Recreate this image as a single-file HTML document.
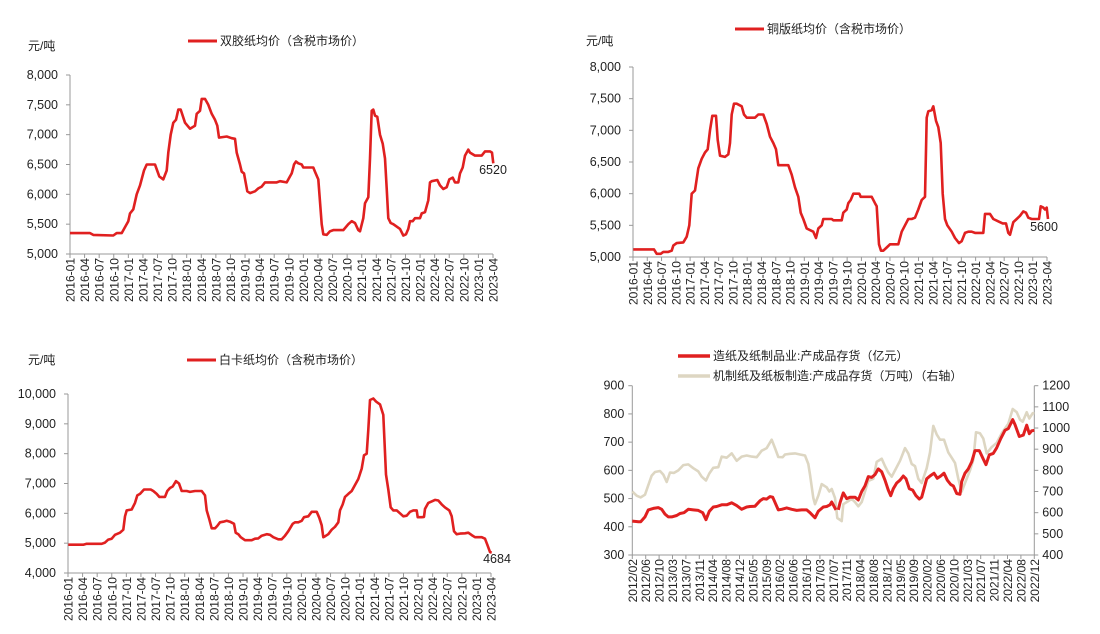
<!DOCTYPE html>
<html><head><meta charset="utf-8"><style>
html,body{margin:0;padding:0;background:#fff;width:1100px;height:634px;overflow:hidden}
svg text{font-family:"Liberation Sans","Noto Sans CJK SC",sans-serif;fill:#222}
</style></head><body>
<svg id="s" width="1100" height="634" xmlns="http://www.w3.org/2000/svg"></svg>
<script>
var S=document.getElementById('s'),h='';
function t(x,y,s,o){h+='<text x="'+x+'" y="'+y+'" '+(o||'')+'>'+s+'</text>';}
function l(x1,y1,x2,y2,c,w){h+='<line x1="'+x1+'" y1="'+y1+'" x2="'+x2+'" y2="'+y2+'" stroke="'+(c||'#999')+'" stroke-width="'+(w||1)+'"/>';}
function poly(pts,ox,oy,vy,c,w){var p=pts.map(function(a){return (ox+a[0]/3).toFixed(1)+','+vy(a[1]).toFixed(1)}).join(' ');h+='<polyline points="'+p+'" fill="none" stroke="'+c+'" stroke-width="'+w+'" stroke-linejoin="round"/>';}
function P(a){var r=[];for(var i=0;i<a.length;i+=2)r.push([a[i],a[i+1]]);return r;}
var months=[];for(var y=2016;y<=2023;y++)for(var m=1;m<=10;m+=3){if(y==2023&&m>4)break;months.push(y+'-'+(m<10?'0':'')+m);}
function priceChart(o){
 l(o.x0,o.yt,o.x0,o.yb);l(o.x0,o.yb,o.x1,o.yb);
 var n=o.vals.length;
 for(var i=0;i<n;i++){var y=o.yb-(o.yb-o.yt)*i/(n-1);l(o.x0-4,y,o.x0,y);t(o.x0-12,y+4,o.vals[i],'font-size="12.5" text-anchor="end"');}
 for(var i=0;i<months.length;i++){var x=o.x0+(o.x1-o.x0)*i/(months.length-1);l(x,o.yb,x,o.yb+4);t(x+4.5,o.yb+4,months[i],'font-size="12" text-anchor="end" transform="rotate(-90 '+(x+4.5)+' '+(o.yb+4)+')"');}
 l(o.lx,o.ly,o.lx+29,o.ly,'#e02020',3);t(o.lx+32,o.ly+4,o.title,'font-size="12"');
 t(o.ux,o.uy,'元/吨','font-size="12"');
 var vy=function(v){return o.yb-(v-o.vmin)/(o.vmax-o.vmin)*(o.yb-o.yt)};
 poly(P(o.pts),o.zx,0,vy,'#e02020',2.6);
 t(o.labx,o.laby,o.lab,'font-size="12.5" text-anchor="middle"');
}
priceChart({x0:70,x1:493,yt:75,yb:254,vmin:5000,vmax:8000,vals:['5,000','5,500','6,000','6,500','7,000','7,500','8,000'],lx:188,ly:41,title:'双胶纸均价（含税市场价）',ux:28,uy:50,zx:0,labx:493,laby:174,lab:'6520',
pts:[210,5350,270,5350,280,5320,340,5310,350,5350,365,5350,385,5550,390,5680,400,5750,410,6000,420,6150,432,6400,440,6500,465,6500,478,6300,490,6250,500,6400,505,6700,512,7000,520,7200,528,7250,535,7420,542,7420,555,7200,570,7100,585,7150,590,7350,600,7400,605,7600,615,7600,625,7500,635,7350,645,7250,652,7150,657,6950,680,6970,695,6940,705,6930,710,6700,720,6500,725,6380,732,6350,742,6050,750,6020,765,6050,775,6100,785,6130,795,6200,830,6200,840,6220,860,6200,870,6300,875,6350,880,6450,882,6500,888,6550,895,6520,905,6500,910,6450,940,6450,945,6380,955,6250,965,5500,970,5330,980,5320,990,5380,1000,5400,1030,5400,1045,5500,1055,5550,1065,5520,1075,5400,1080,5380,1090,5600,1095,5850,1105,5950,1110,6600,1115,7400,1120,7420,1125,7320,1132,7300,1140,7000,1148,6850,1155,6600,1160,6100,1165,5600,1172,5520,1180,5500,1200,5420,1210,5310,1218,5330,1225,5420,1230,5550,1238,5550,1245,5600,1260,5600,1265,5680,1275,5700,1285,5900,1290,6200,1295,6220,1312,6240,1320,6150,1330,6090,1340,6120,1348,6250,1358,6280,1365,6200,1375,6200,1380,6350,1388,6450,1395,6650,1405,6750,1410,6700,1425,6650,1445,6650,1455,6720,1470,6720,1476,6700,1480,6520]});
priceChart({x0:633,x1:1047,yt:67,yb:257,vmin:5000,vmax:8000,vals:['5,000','5,500','6,000','6,500','7,000','7,500','8,000'],lx:735,ly:29,title:'铜版纸均价（含税市场价）',ux:586,uy:45,zx:580,labx:1044,laby:231,lab:'5600',
pts:[160,5120,222,5120,230,5050,242,5050,250,5080,265,5080,275,5100,280,5180,290,5220,310,5230,320,5320,328,5500,335,6000,345,6050,355,6400,365,6550,375,6650,383,6700,390,7000,397,7230,408,7230,413,6850,420,6600,435,6580,445,6620,450,6800,455,7250,462,7420,470,7420,485,7380,492,7250,500,7200,525,7200,535,7250,550,7250,560,7100,570,6900,580,6800,588,6700,595,6450,625,6450,635,6300,645,6100,655,5950,662,5700,670,5600,680,5450,700,5400,708,5300,715,5450,725,5500,730,5600,755,5600,760,5580,785,5580,790,5700,800,5750,805,5850,812,5900,820,6000,838,6000,842,5950,875,5950,885,5850,890,5800,897,5200,903,5100,910,5100,920,5150,930,5200,955,5200,965,5400,975,5500,985,5600,995,5600,1005,5620,1015,5750,1025,5900,1035,5950,1040,7200,1045,7300,1055,7320,1060,7380,1068,7150,1075,7050,1082,6800,1088,6000,1095,5600,1102,5500,1115,5400,1125,5300,1137,5220,1145,5250,1155,5380,1165,5400,1175,5400,1185,5380,1210,5380,1215,5680,1230,5680,1240,5600,1260,5550,1268,5530,1278,5530,1285,5380,1290,5350,1300,5550,1310,5600,1320,5650,1330,5720,1338,5700,1345,5620,1355,5600,1370,5600,1377,5600,1382,5800,1390,5780,1395,5750,1400,5780,1404,5600]});
priceChart({x0:68,x1:491,yt:394,yb:573,vmin:4000,vmax:10000,vals:['4,000','5,000','6,000','7,000','8,000','9,000','10,000'],lx:187,ly:360,title:'白卡纸均价（含税市场价）',ux:28,uy:364,zx:0,labx:497,laby:563,lab:'4684',
pts:[205,4950,250,4950,260,4980,305,4980,315,5020,325,5120,335,5150,345,5280,360,5350,370,5450,375,5900,380,6100,395,6130,405,6350,412,6600,420,6650,432,6800,452,6800,460,6750,470,6650,478,6550,495,6550,502,6750,510,6850,518,6900,528,7080,537,7000,545,6750,560,6750,570,6720,585,6750,605,6750,615,6600,620,6100,628,5800,635,5500,645,5500,652,5580,660,5700,670,5720,680,5750,690,5720,702,5650,707,5350,715,5300,722,5200,735,5100,755,5100,765,5150,775,5160,785,5250,800,5300,810,5280,820,5200,835,5130,845,5130,855,5250,865,5400,878,5650,885,5700,895,5700,905,5750,912,5870,925,5900,935,6050,950,6050,958,5850,965,5600,970,5200,975,5230,985,5300,995,5450,1005,5550,1015,5700,1020,6100,1028,6300,1035,6550,1045,6650,1055,6750,1065,6950,1075,7150,1085,7500,1092,7950,1100,8000,1105,8800,1110,9800,1120,9850,1128,9750,1140,9650,1150,9300,1158,7300,1165,6800,1172,6200,1180,6100,1190,6100,1200,6000,1210,5900,1220,5920,1230,6050,1240,6100,1250,6100,1253,5870,1265,5870,1272,5880,1275,6150,1285,6350,1295,6400,1305,6450,1315,6430,1325,6300,1335,6200,1348,6100,1355,5900,1362,5400,1370,5300,1380,5320,1395,5330,1405,5350,1415,5270,1425,5200,1445,5200,1455,5150,1462,4950,1470,4700,1475,4684]});
(function(){
 var x0=632.3,x1=1034.3,yt=385.7,yb=555;
 l(x0,yt,x0,yb);l(x1,yt,x1,yb);l(x0,yb,x1,yb);
 for(var i=0;i<7;i++){var y=yb-(yb-yt)*i/6;l(x0-4,y,x0,y);t(x0-8,y+4,300+100*i,'font-size="12.5" text-anchor="end"');}
 for(var i=0;i<9;i++){var y=yb-(yb-yt)*i/8;l(x1,y,x1+4,y);t(x1+8,y+4,400+100*i,'font-size="12.5"');}
 var lab=['2012/02','2012/06','2012/10','2013/03','2013/07','2013/11','2014/04','2014/08','2014/12','2015/05','2015/09','2016/02','2016/06','2016/10','2017/03','2017/07','2017/11','2018/04','2018/08','2018/12','2019/05','2019/09','2020/02','2020/06','2020/10','2021/03','2021/07','2021/11','2022/04','2022/08','2022/12'];
 for(var i=0;i<lab.length;i++){var x=x0+13.4*i;l(x,yb,x,yb+4);t(x+4.5,yb+4,lab[i],'font-size="12" text-anchor="end" transform="rotate(-90 '+(x+4.5)+' '+(yb+4)+')"');}
 l(678,356,710,356,'#e02020',3.5);t(713,360,'造纸及纸制品业:产成品存货（亿元）','font-size="12"');
 l(678,376,710,376,'#ddd6c2',3.5);t(713,380,'机制纸及纸板制造:产成品存货（万吨）（右轴）','font-size="12"');
 var vl=function(v){return yb-(v-300)/600*(yb-yt)},vr=function(v){return yb-(v-400)/800*(yb-yt)};
 poly(P([157,700,170,680,182,672,195,685,205,730,215,775,225,792,240,797,250,780,260,745,270,790,282,788,295,800,310,825,325,828,340,810,355,795,365,770,378,752,388,785,400,812,415,815,425,865,440,860,455,880,470,845,485,865,500,870,515,865,530,862,545,893,560,905,575,945,585,905,595,863,608,862,615,875,630,878,645,880,660,875,675,870,685,830,690,780,700,670,705,640,715,680,725,735,740,720,748,700,755,712,765,670,772,575,785,560,790,640,800,650,815,665,825,650,835,630,845,650,855,700,865,750,880,760,890,840,905,855,915,820,925,790,935,770,945,800,960,845,975,905,985,880,995,830,1005,820,1015,760,1025,740,1040,810,1050,885,1060,1010,1070,970,1080,945,1092,945,1105,885,1115,860,1125,835,1135,760,1145,700,1155,740,1170,800,1180,850,1188,980,1200,975,1210,950,1220,880,1235,910,1250,930,1265,975,1285,1020,1298,1090,1310,1075,1320,1040,1328,1030,1340,1075,1348,1045,1358,1070,1363,1070]),580,0,vr,'#ddd6c2',2.6);
 poly(P([157,420,175,418,182,418,195,435,205,460,220,465,235,468,245,462,255,445,265,435,275,435,290,440,300,447,312,450,325,462,340,460,355,458,368,450,378,425,388,455,400,470,410,472,425,478,440,478,455,485,470,475,485,462,500,470,510,472,525,473,540,492,550,500,560,498,570,507,578,505,595,460,605,462,620,467,635,462,650,458,665,460,680,460,690,450,705,432,715,455,730,470,740,472,750,478,755,488,768,460]),580,0,vl,'#e02020',3);
 poly(P([775,460,780,485,790,520,800,500,810,505,825,505,835,495,845,525,855,545,865,578,875,575,885,585,895,605,905,595,915,565,925,530,932,510,940,535,950,555,960,565,970,580,978,570,988,535,998,530,1008,510,1018,498,1025,505,1040,570,1050,580,1062,590,1072,572,1082,580,1092,590,1102,565,1112,550,1120,545,1130,518,1140,515,1145,560,1155,590,1165,605,1175,630,1185,670,1198,670,1210,640,1218,620,1228,655,1240,660,1250,680,1262,712,1275,742,1285,748,1298,780,1305,762,1318,720,1330,725,1340,760,1348,730,1355,740,1363,742]),580,0,vl,'#e02020',3);
})();
S.innerHTML=h;
</script>
</body></html>
